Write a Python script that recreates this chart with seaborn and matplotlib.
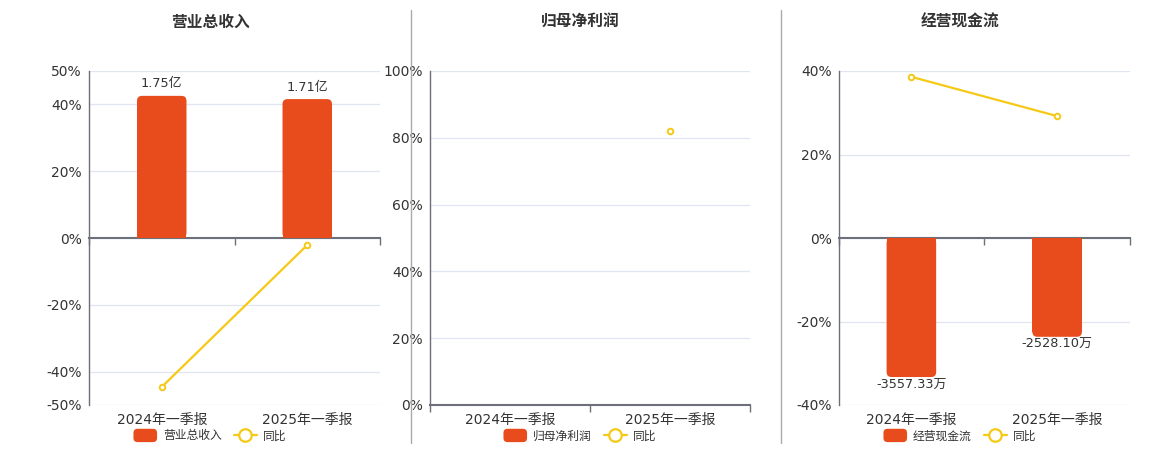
import numpy as np
import pandas as pd
import matplotlib
matplotlib.use("Agg")
import matplotlib.pyplot as plt
from matplotlib.patches import Patch, FancyBboxPatch
from matplotlib.lines import Line2D
from matplotlib.legend_handler import HandlerPatch
import seaborn as sns

# ---------------- data ----------------
periods = ["2024年一季报", "2025年一季报"]

titles = ["营业总收入", "归母净利润", "经营现金流"]

revenue_values = [1.75, 1.71]          # 亿
revenue_labels = ["1.75亿", "1.71亿"]
revenue_yoy = [-44.6, -2.1]            # %

profit_values = [np.nan, np.nan]
profit_labels = ["", ""]
profit_yoy = [np.nan, 81.9]            # %

cash_values = [-3557.33, -2528.10]     # 万
cash_labels = ["-3557.33万", "-2528.10万"]
cash_yoy = [38.6, 29.2]                # %

yoy_label = "同比"

# ---------------- style ----------------
sns.set_theme(style="white")
plt.rcParams["font.family"] = ["DejaVu Sans", "Noto Sans CJK SC"]
BAR = "#E84B1C"
GOLD = "#F5C916"
TXT = "#333333"
GRID = "#E0E6F1"
AXC = "#6E7079"


class RoundPatchHandler(HandlerPatch):
    def create_artists(self, legend, orig_handle, xdescent, ydescent,
                       width, height, fontsize, trans):
        p = FancyBboxPatch((-xdescent, -ydescent - 1), width, height + 2,
                           boxstyle="round,pad=0,rounding_size=3",
                           facecolor=orig_handle.get_facecolor(),
                           edgecolor="none", transform=trans)
        return [p]


fig = plt.figure(figsize=(11.6, 4.5), dpi=100)

panels = [
    dict(values=revenue_values, labels=revenue_labels, yoy=revenue_yoy,
         rect=[89, 380], ylim=(-50, 50), yticks=[-50, -40, -20, 0, 20, 40, 50],
         bar_lim=2.056, legend_cx=210, title_cx=210),
    dict(values=profit_values, labels=profit_labels, yoy=profit_yoy,
         rect=[430, 750], ylim=(0, 100), yticks=[0, 20, 40, 60, 80, 100],
         bar_lim=1.0, legend_cx=580, title_cx=580),
    dict(values=cash_values, labels=cash_labels, yoy=cash_yoy,
         rect=[838.5, 1130], ylim=(-40, 40), yticks=[-40, -20, 0, 20, 40],
         bar_lim=4273, legend_cx=960, title_cx=960),
]

W, H = 1160, 450
top_px, bot_px = 71, 405

for i, p in enumerate(panels):
    x0, x1 = p["rect"]
    ax = fig.add_axes([x0 / W, 1 - bot_px / H, (x1 - x0) / W, (bot_px - top_px) / H])
    tw = ax.twinx()
    ax.set_zorder(1)
    tw.set_zorder(2)
    tw.patch.set_visible(False)
    ax.patch.set_visible(False)

    df = pd.DataFrame({"period": periods, "value": p["values"], "yoy": p["yoy"]})
    n = len(periods)
    pos = np.arange(n)

    # bars on hidden twin axis
    if np.isfinite(df["value"]).any():
        sns.barplot(x=pos, y=df["value"].values, ax=tw, color=BAR, width=0.34,
                    saturation=1, edgecolor="none")
    if p["ylim"][0] < 0:
        tw.set_ylim(-p["bar_lim"], p["bar_lim"])
    else:
        tw.set_ylim(0, p["bar_lim"])
    tw.set_xlim(-0.5, n - 0.5)
    for s in tw.spines.values():
        s.set_visible(False)
    tw.set_yticks([])
    tw.tick_params(axis="x", length=0, labelbottom=False)
    tw.set_ylabel("")

    # line on main axis
    mask = np.isfinite(df["yoy"].values)
    sns.lineplot(x=pos[mask], y=df["yoy"].values[mask], ax=ax, color=GOLD, lw=1.6,
                 marker="o", markersize=4, markerfacecolor="white",
                 markeredgecolor=GOLD, markeredgewidth=1.4, errorbar=None,
                 sort=False, zorder=5)
    ax.set_xlim(-0.5, n - 0.5)
    ax.set_ylim(*p["ylim"])
    ax.set_yticks(p["yticks"])
    ax.set_yticklabels([f"{t}%" for t in p["yticks"]], color=TXT, fontsize=10)
    ax.tick_params(axis="y", length=0, pad=5)
    ax.grid(axis="y", color=GRID, lw=0.9)
    ax.set_axisbelow(True)
    ax.set_xlabel("")
    ax.set_ylabel("")

    for side in ["top", "right"]:
        ax.spines[side].set_visible(False)
    ax.spines["left"].set_color(AXC)
    ax.spines["left"].set_linewidth(1)
    ax.spines["bottom"].set_position(("data", 0))
    ax.spines["bottom"].set_color(AXC)
    ax.spines["bottom"].set_linewidth(1.5)
    ax.set_xticks(np.arange(-0.5, n, 1.0))
    ax.set_xticklabels([])
    ax.tick_params(axis="x", bottom=True, length=5, width=1, color=AXC, direction="out")

    sec = ax.secondary_xaxis(0)
    sec.set_xticks(pos)
    sec.set_xticklabels(periods, fontsize=10, color=TXT)
    sec.tick_params(length=0, pad=6)
    sec.spines["bottom"].set_visible(False)

    # rounded bar ends + labels
    fig.canvas.draw()
    inv = tw.transData.inverted()
    (dx0, dy0) = inv.transform((0, 0))
    (dx1, dy1) = inv.transform((1, 1))
    x_per_px = dx1 - dx0
    y_per_px = dy1 - dy0
    r_px = 5
    for j, bar in enumerate(list(tw.patches)):
        bx, by = bar.get_x(), bar.get_y()
        bw, bh = bar.get_width(), bar.get_height()
        if not np.isfinite(bh) or bh == 0:
            continue
        ylo, yhi = min(by, by + bh), max(by, by + bh)
        ry = r_px * y_per_px
        rounded = FancyBboxPatch((bx, ylo), bw, yhi - ylo,
                                 boxstyle=f"round,pad=0,rounding_size={r_px * x_per_px}",
                                 mutation_aspect=y_per_px / x_per_px,
                                 facecolor=BAR, edgecolor="none", zorder=2)
        tw.add_patch(rounded)
        sign = 1 if bh > 0 else -1
        bar.set_height(bh - sign * ry)
        lab = p["labels"][j]
        if bh > 0:
            tw.annotate(lab, (bx + bw / 2, yhi), xytext=(0, 4), textcoords="offset points",
                        ha="center", va="bottom", fontsize=9.3, color=TXT)
        else:
            tw.annotate(lab, (bx + bw / 2, ylo), xytext=(0, -1), textcoords="offset points",
                        ha="center", va="top", fontsize=9.3, color=TXT)

    # title
    fig.text(p["title_cx"] / W, 1 - 22 / H, titles[i], ha="center", va="center",
             fontsize=11.3, fontweight="bold", color=TXT)

    handles = [Patch(facecolor=BAR, edgecolor="none", label=titles[i]),
               Line2D([], [], color=GOLD, lw=1.6, marker="o", markersize=9,
                      markerfacecolor="white", markeredgecolor=GOLD,
                      markeredgewidth=1.6, label=yoy_label)]
    fig.legend(handles=handles, loc="center", bbox_to_anchor=(p["legend_cx"] / W, 1 - 436 / H),
               ncol=2, frameon=False, fontsize=8.5, handlelength=2.0, handleheight=1.0,
               columnspacing=1.0, handletextpad=0.5, labelcolor=TXT,
               handler_map={Patch: RoundPatchHandler()})

# separators
for xs in [410.7, 780.5]:
    fig.add_artist(Line2D([xs / W, xs / W], [1 - 10 / H, 1 - 443 / H],
                          color="#AAAAAA", lw=1, transform=fig.transFigure))

fig.savefig("out.png", dpi=100)
